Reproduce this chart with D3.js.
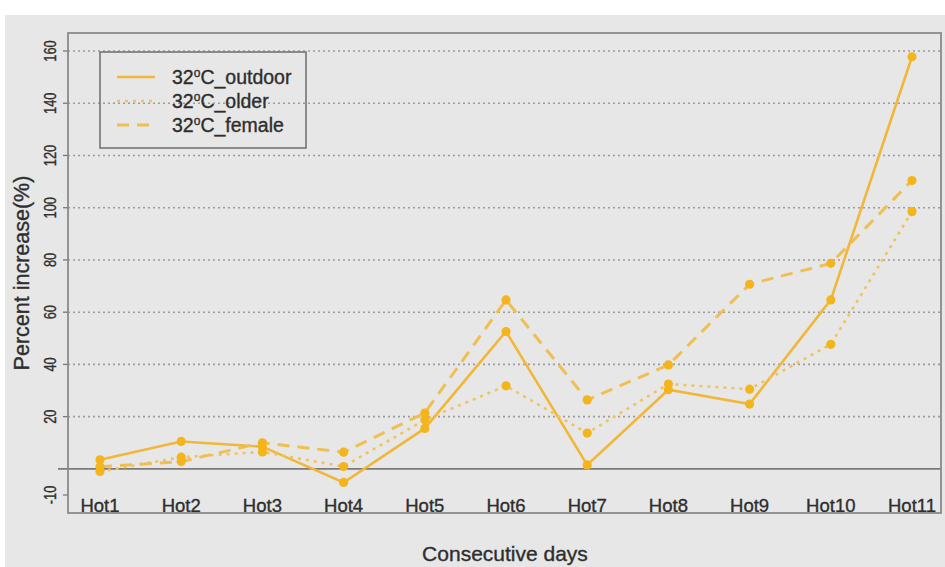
<!DOCTYPE html>
<html>
<head>
<meta charset="utf-8">
<script src="https://cdn.jsdelivr.net/npm/d3@7"></script>
<style>
  html, body { margin: 0; padding: 0; background: #ffffff; }
  svg { display: block; }
  text { font-family: "Liberation Sans", Arial, Helvetica, sans-serif; fill: #2e2e2e; stroke: #2e2e2e; stroke-width: 0.35px; }
</style>
</head>
<body>
<svg id="chart" width="945" height="567"></svg>
<script>
// Consecutive hot days
const categories = ["Hot1", "Hot2", "Hot3", "Hot4", "Hot5", "Hot6", "Hot7", "Hot8", "Hot9", "Hot10", "Hot11"];

// Percent increase (%) per group
const outdoor = [3.5, 10.5, 8.5, -5.2, 15.5, 52.6, 1.5, 30.3, 24.8, 64.7, 157.8];
const older   = [-1.0, 4.5, 6.5, 0.9, 18.8, 31.8, 13.7, 32.5, 30.5, 47.7, 98.5];
const female  = [0.8, 2.8, 10.0, 6.4, 21.4, 64.7, 26.4, 39.8, 70.7, 78.7, 110.4];

const yTicks = [-10, 20, 40, 60, 80, 100, 120, 140, 160];
const gridValues = [20, 40, 60, 80, 100, 120, 140, 160];
const seriesNames = ["outdoor", "older", "female"];

const series = [
  { name: seriesNames[0], values: outdoor, dash: null,    width: 2.6, color: "#f1b73a" },
  { name: seriesNames[1], values: older,   dash: "3,5",   width: 2.6, color: "#f0c35e" },
  { name: seriesNames[2], values: female,  dash: "12,8",  width: 3.0, color: "#efbf52" }
];

const svg = d3.select("#chart");
const W = 945, H = 567;
const box = { left: 68, right: 941, top: 33, bottom: 513 };

// device background
svg.append("rect").attr("x", 0).attr("y", 0).attr("width", W).attr("height", H).attr("fill", "#ffffff");
svg.append("rect").attr("x", 5).attr("y", 15).attr("width", W - 5).attr("height", H - 15).attr("fill", "#e7e7e7");

const x = d3.scalePoint().domain(categories).range([100, 912]);
const y = d3.scaleLinear().domain([-10, 160]).range([495, 51]);

// horizontal dotted grid
svg.append("g").selectAll("line").data(gridValues).join("line")
  .attr("x1", box.left).attr("x2", box.right)
  .attr("y1", d => y(d)).attr("y2", d => y(d))
  .attr("stroke", "#9c9c9c").attr("stroke-width", 1.6)
  .attr("stroke-dasharray", "2,3");

// zero reference line
svg.append("line")
  .attr("x1", 58).attr("x2", box.right)
  .attr("y1", y(0)).attr("y2", y(0))
  .attr("stroke", "#7a7a7a").attr("stroke-width", 1.6);

// y axis ticks and rotated labels
const yAxis = svg.append("g");
yAxis.selectAll("line").data(yTicks).join("line")
  .attr("x1", 63).attr("x2", box.left)
  .attr("y1", d => y(d)).attr("y2", d => y(d))
  .attr("stroke", "#777").attr("stroke-width", 1.3);
yAxis.selectAll("text").data(yTicks).join("text")
  .attr("transform", d => `translate(56,${y(d)}) rotate(-90) scale(0.78,1)`)
  .attr("text-anchor", "middle")
  .style("font-size", "16.5px")
  .text(d => d);

// x category labels inside the frame
svg.append("g").selectAll("text").data(categories).join("text")
  .attr("x", d => x(d)).attr("y", 512)
  .attr("text-anchor", "middle")
  .style("font-size", "18.5px")
  .text(d => d);

// series lines and points
const line = d3.line().x((d, i) => x(categories[i])).y(d => y(d));
series.forEach(s => {
  svg.append("path")
    .datum(s.values)
    .attr("d", line)
    .attr("fill", "none")
    .attr("stroke", s.color)
    .attr("stroke-width", s.width)
    .attr("stroke-dasharray", s.dash);
});
series.forEach(s => {
  svg.append("g").selectAll("circle").data(s.values).join("circle")
    .attr("cx", (d, i) => x(categories[i]))
    .attr("cy", d => y(d))
    .attr("r", 4.6)
    .attr("fill", "#f4b41c");
});

// plot frame
svg.append("rect")
  .attr("x", box.left).attr("y", box.top)
  .attr("width", box.right - box.left).attr("height", box.bottom - box.top)
  .attr("fill", "none").attr("stroke", "#8a8a8a").attr("stroke-width", 1.8);

// axis titles
svg.append("text")
  .attr("x", 505).attr("y", 561)
  .attr("text-anchor", "middle")
  .style("font-size", "21px")
  .text("Consecutive days");
svg.append("text")
  .attr("transform", "translate(29,273) rotate(-90)")
  .attr("text-anchor", "middle")
  .style("font-size", "21.5px")
  .text("Percent increase(%)");

// legend
const legend = svg.append("g");
legend.append("rect")
  .attr("x", 100).attr("y", 52).attr("width", 206).attr("height", 96)
  .attr("fill", "none").attr("stroke", "#6e6e6e").attr("stroke-width", 1.5);
series.forEach((s, i) => {
  const ry = 77 + i * 24;
  legend.append("line")
    .attr("x1", 117).attr("x2", 155).attr("y1", ry).attr("y2", ry)
    .attr("stroke", s.color).attr("stroke-width", s.width)
    .attr("stroke-dasharray", s.dash);
  const t = legend.append("text")
    .attr("x", 172).attr("y", ry + 7)
    .style("font-size", "19.5px");
  t.append("tspan").text("32");
  t.append("tspan").attr("dy", -7).style("font-size", "12px").text("o");
  t.append("tspan").attr("dy", 7).text("C_" + s.name);
});
</script>
</body>
</html>
